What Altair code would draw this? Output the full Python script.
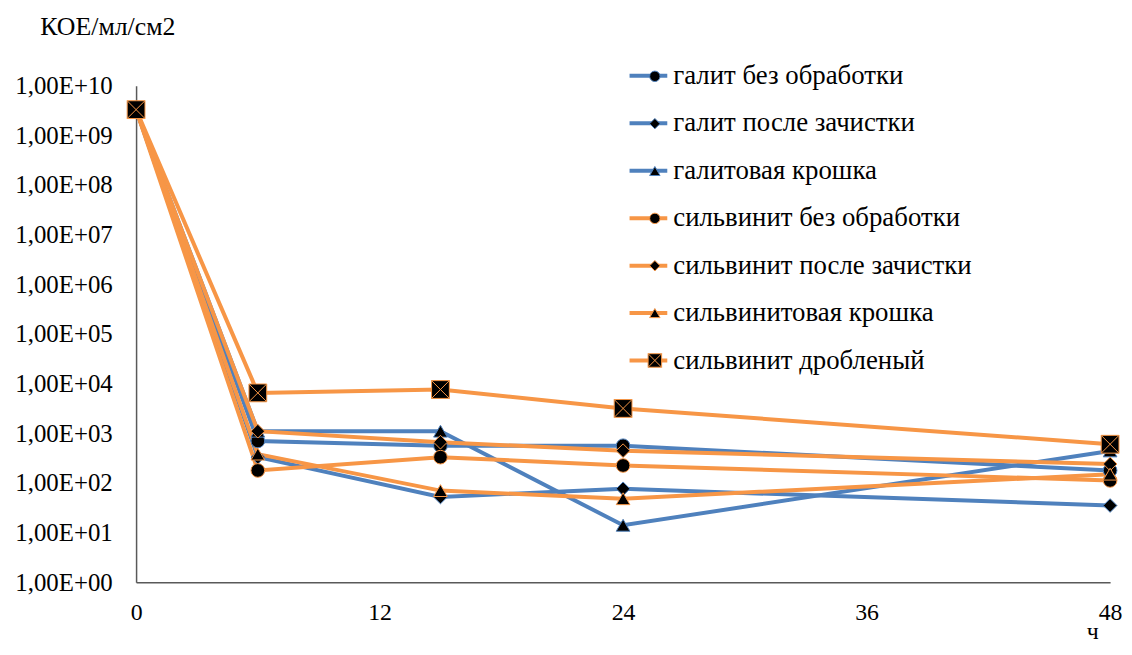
import altair as alt
import pandas as pd

hours = [0, 6, 15, 24, 48]
series_names = [
    "галит без обработки",
    "галит после зачистки",
    "галитовая крошка",
    "сильвинит без обработки",
    "сильвинит после зачистки",
    "сильвинитовая крошка",
    "сильвинит дробленый",
]
galit_bez = [3.3e9, 700, 560, 560, 178]
galit_posle = [3.3e9, 330, 52, 76, 35]
galit_kroshka = [3.3e9, 1100, 1100, 14, 440]
silv_bez = [3.3e9, 178, 330, 224, 112]
silv_posle = [3.3e9, 1100, 660, 445, 240]
silv_kroshka = [3.3e9, 380, 70, 48, 150]
silv_drob = [3.3e9, 6500, 7600, 3160, 600]

all_series = [galit_bez, galit_posle, galit_kroshka, silv_bez, silv_posle, silv_kroshka, silv_drob]
y_ticks = [10.0 ** k for k in range(0, 11)]
x_ticks = [0, 12, 24, 36, 48]

BLUE = "#4F81BD"
ORANGE = "#F79646"
colors = [BLUE] * 3 + [ORANGE] * 4
sq = "M-1.3,-1.3H1.3V1.3H-1.3Z M-1.3,-1.3L1.3,1.3 M1.3,-1.3L-1.3,1.3"
shapes = ["circle", "diamond", "triangle-up", "circle", "diamond", "triangle-up", sq]

rows = []
for name, vals in zip(series_names, all_series):
    for h, v in zip(hours, vals):
        rows.append({"s": name, "h": h, "v": v})
df = pd.DataFrame(rows)

FONT = "Liberation Serif"
FS_LEG = 27

x_enc = alt.X("h:Q", scale=alt.Scale(domain=[0, 48], nice=False, zero=False),
              axis=alt.Axis(values=x_ticks, ticks=False, grid=False, labelPadding=19, labelFontSize=24,
                            labelFlush=False,
                            title="ч", titleX=963, titleY=57, titleAlign="center",
                            titleBaseline="alphabetic", titleFontWeight="normal", titleFontSize=24))
y_enc = alt.Y("v:Q", scale=alt.Scale(type="log", domain=[1, 1e10], nice=False),
              axis=alt.Axis(values=y_ticks, ticks=False, grid=False, labelPadding=24, labelFontSize=25,
                            labelFlush=False,
                            labelExpr="'1,00E+' + (datum.value < 9e9 ? '0' : '') + format(log(datum.value)/LN10, '.0f')",
                            title="КОЕ/мл/см2", titleAngle=0, titleX=-97, titleY=-52, titleFontSize=26,
                            titleAlign="left", titleBaseline="alphabetic", titleFontWeight="normal"))

lines = alt.Chart(df).mark_line(strokeWidth=4).encode(
    x=x_enc, y=y_enc,
    color=alt.Color("s:N", sort=series_names, scale=alt.Scale(range=colors),
                    legend=alt.Legend(title=None, orient="none", legendX=495, legendY=-31,
                                      symbolType="stroke", symbolSize=1444, symbolStrokeWidth=4,
                                      labelFontSize=FS_LEG, labelFont=FONT, labelOffset=4,
                                      rowPadding=13.8, labelLimit=500)),
    order="h:Q",
)

pt_legend = alt.Legend(title=None, orient="none", legendX=509, legendY=-23,
                       symbolSize=110, symbolFillColor="black", symbolStrokeWidth=1,
                       labelFontSize=FS_LEG, labelFont=FONT, labelOffset=4,
                       rowPadding=19.7, labelOpacity=0, labelLimit=500)

points = alt.Chart(df).mark_point(filled=True, fill="black", strokeWidth=1, opacity=1, size=190).encode(
    x=x_enc, y=y_enc,
    shape=alt.Shape("s:N", scale=alt.Scale(domain=series_names, range=shapes), legend=pt_legend),
    stroke=alt.Stroke("s:N", scale=alt.Scale(domain=series_names, range=colors), legend=pt_legend),
)

chart = alt.layer(lines, points).properties(
    width=981, height=500,
    autosize=alt.AutoSizeParams(type="none"),
    padding={"left": 129, "top": 76, "right": 14, "bottom": 63},
).configure(background="white").configure_view(stroke=None).configure_axis(
    domainColor="#595959", domainWidth=1.5,
    labelFont=FONT, labelColor="black",
    titleFont=FONT, titleColor="black",
)

chart.save("out.html", embed_options={"renderer": "svg", "actions": False})
